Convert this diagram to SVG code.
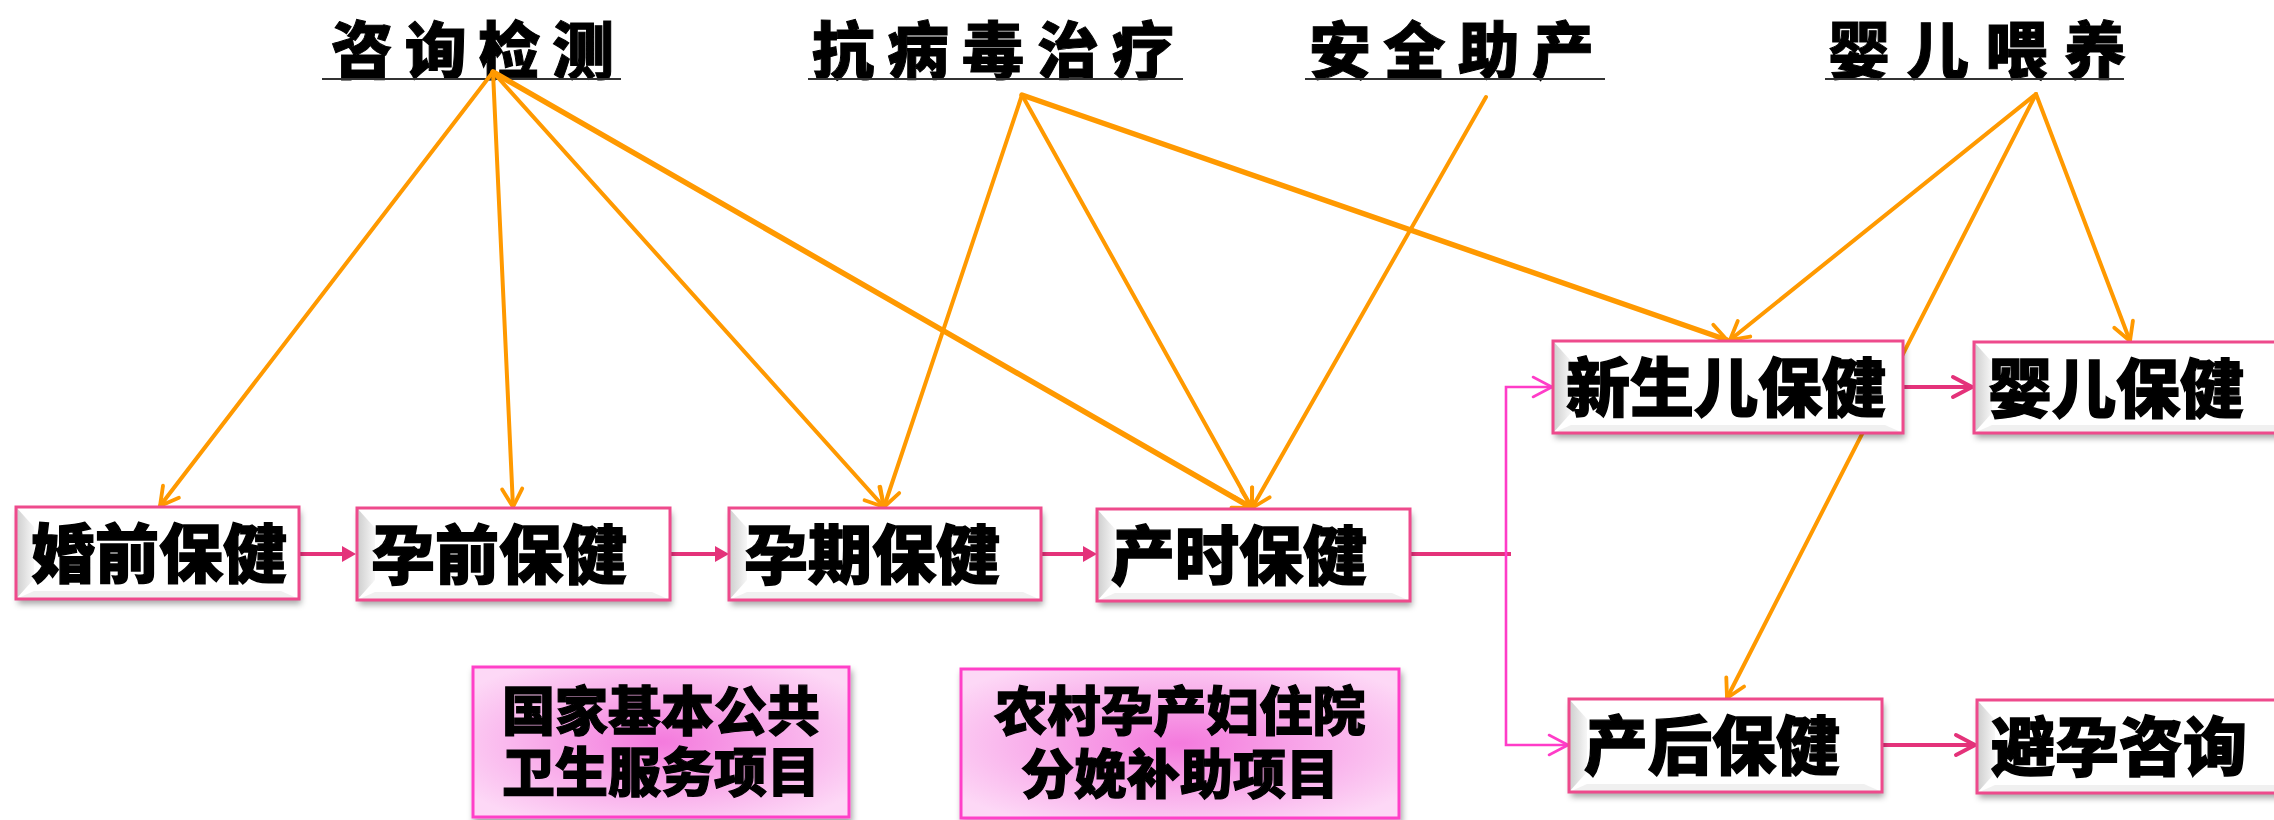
<svg xmlns="http://www.w3.org/2000/svg" width="2274" height="820" viewBox="0 0 2274 820">
  <style>
    .title { font-family: "Noto Sans CJK SC", "Noto Sans CJK TC", sans-serif; font-weight: 900; font-size: 62px; fill: #000; stroke: #000; stroke-width: 1; }
    .uline { stroke: #333; stroke-width: 2.2; }
    .lbl { font-family: "Noto Sans CJK SC", "Noto Sans CJK TC", sans-serif; font-weight: 900; font-size: 64px; fill: #000; stroke: #000; stroke-width: 1.4; }
    .plbl { font-family: "Noto Sans CJK SC", "Noto Sans CJK TC", sans-serif; font-weight: 900; font-size: 53px; fill: #000; stroke: #000; stroke-width: 1.2; text-anchor: middle; }
    .box { fill: #fff; stroke: none; filter: url(#sh); }
    .border { fill: none; stroke: #EE4A8C; stroke-width: 3; }
    .bevL { fill: url(#bevGrad); }
    .bevB { fill: #ececec; opacity: 0.8; }
    .pbox { fill: url(#pinkFill); stroke: #FF40C8; stroke-width: 3; filter: url(#sh); }
    .org { stroke: #FF9900; stroke-width: 4; fill: none; stroke-linecap: round; marker-end: url(#vOrg); }
    .org.thick { stroke-width: 5.5; }
    .pk { stroke: #E4327A; stroke-width: 4; fill: none; }
    .mg { stroke: #FF3CC8; stroke-width: 2.6; fill: none; }
  </style>
  <defs>
    <filter id="sh" x="-5%" y="-10%" width="115%" height="135%">
      <feDropShadow dx="2" dy="5" stdDeviation="3" flood-color="#000" flood-opacity="0.35"/>
    </filter>
    <linearGradient id="bevGrad" x1="0" y1="0" x2="1" y2="0">
      <stop offset="0" stop-color="#cdcdcd"/>
      <stop offset="1" stop-color="#f7f7f7"/>
    </linearGradient>
    <radialGradient id="pinkFill" cx="50%" cy="50%" r="62%">
      <stop offset="0" stop-color="#F47ADD"/>
      <stop offset="0.35" stop-color="#F79CE6"/>
      <stop offset="1" stop-color="#FDD8F6"/>
    </radialGradient>
    <marker id="vOrg" markerUnits="userSpaceOnUse" viewBox="-22 -14 26 28" markerWidth="26" markerHeight="28" refX="0" refY="0" orient="auto">
      <path d="M-18,-10 L0,0 L-18,10" fill="none" stroke="#FF9900" stroke-width="3.8" stroke-linecap="round" stroke-linejoin="round"/>
    </marker>
    <marker id="triPk" markerUnits="userSpaceOnUse" viewBox="-10 -10 18 20" markerWidth="18" markerHeight="20" refX="0" refY="0" orient="auto">
      <path d="M-8,-8 L6,0 L-8,8 Z" fill="#E4327A"/>
    </marker>
    <marker id="vPk" markerUnits="userSpaceOnUse" viewBox="-24 -14 28 28" markerWidth="28" markerHeight="28" refX="0" refY="0" orient="auto">
      <path d="M-19,-10 L0,0 L-19,10" fill="none" stroke="#E4327A" stroke-width="4" stroke-linecap="round" stroke-linejoin="round"/>
    </marker>
    <marker id="vMg" markerUnits="userSpaceOnUse" viewBox="-24 -14 28 28" markerWidth="28" markerHeight="28" refX="0" refY="0" orient="auto">
      <path d="M-19,-10 L0,0 L-19,10" fill="none" stroke="#FF3CC8" stroke-width="2.6" stroke-linecap="round" stroke-linejoin="round"/>
    </marker>
  </defs>

  <rect x="0" y="0" width="2274" height="820" fill="#fff"/>

  <!-- category titles -->
  <g id="t-zixun">
    <text class="title" x="331" y="74" textLength="283" lengthAdjust="spacing">咨询检测</text>
    <line class="uline" x1="322" y1="79" x2="621" y2="79"/>
  </g>
  <g id="t-kangbing">
    <text class="title" x="812" y="74" textLength="362" lengthAdjust="spacing">抗病毒治疗</text>
    <line class="uline" x1="808" y1="79" x2="1183" y2="79"/>
  </g>
  <g id="t-anquan">
    <text class="title" x="1309" y="74" textLength="285" lengthAdjust="spacing">安全助产</text>
    <line class="uline" x1="1305" y1="79" x2="1605" y2="79"/>
  </g>
  <g id="t-weiyang">
    <text class="title" x="1828" y="74" textLength="298" lengthAdjust="spacing">婴儿喂养</text>
    <line class="uline" x1="1825" y1="79" x2="2124" y2="79"/>
  </g>

  <!-- connectors -->
  <g id="connectors">
    <line class="org" x1="493" y1="72" x2="160" y2="506"/>
    <line class="org" x1="493" y1="72" x2="513" y2="507"/>
    <line class="org" x1="493" y1="72" x2="884" y2="507"/>
    <line class="org thick" x1="493" y1="72" x2="1252" y2="508"/>
    <line class="org" x1="1022" y1="95" x2="884" y2="507"/>
    <line class="org" x1="1022" y1="95" x2="1252" y2="508"/>
    <line class="org thick" x1="1022" y1="95" x2="1727" y2="340"/>
    <line class="org" x1="1486" y1="97" x2="1252" y2="508"/>
    <line class="org" x1="2036" y1="94" x2="1730" y2="340"/>
    <line class="org" x1="2036" y1="94" x2="2130" y2="341"/>
    <line class="org" x1="2036" y1="94" x2="1727" y2="698"/>

    <line class="pk" x1="299" y1="554" x2="350" y2="554" marker-end="url(#triPk)"/>
    <line class="pk" x1="670" y1="554" x2="723" y2="554" marker-end="url(#triPk)"/>
    <line class="pk" x1="1041" y1="554" x2="1091" y2="554" marker-end="url(#triPk)"/>
    <line class="pk" x1="1410" y1="554" x2="1511" y2="554"/>
    <path class="mg" d="M1506,554 V387 H1552" marker-end="url(#vMg)"/>
    <path class="mg" d="M1506,554 V745 H1568" marker-end="url(#vMg)"/>
    <line class="pk" x1="1903" y1="387" x2="1972" y2="387" marker-end="url(#vPk)"/>
    <line class="pk" x1="1882" y1="745" x2="1975" y2="745" marker-end="url(#vPk)"/>
  </g>

  <!-- main nodes -->
  <g id="n-hunqian">
    <rect class="box" x="16" y="507" width="283" height="92"/>
    <polygon class="bevL" points="16,507 34,527 34,579 16,599"/>
    <polygon class="bevB" points="16,599 34,591 281,591 299,599"/>
    <rect class="border" x="16" y="507" width="283" height="92"/>
    <text class="lbl" x="31" y="577">婚前保健</text>
  </g>
  <g id="n-yunqian">
    <rect class="box" x="357" y="508" width="313" height="92"/>
    <polygon class="bevL" points="357,508 375,528 375,580 357,600"/>
    <polygon class="bevB" points="357,600 375,592 652,592 670,600"/>
    <rect class="border" x="357" y="508" width="313" height="92"/>
    <text class="lbl" x="371" y="578">孕前保健</text>
  </g>
  <g id="n-yunqi">
    <rect class="box" x="729" y="508" width="312" height="92"/>
    <polygon class="bevL" points="729,508 747,528 747,580 729,600"/>
    <polygon class="bevB" points="729,600 747,592 1023,592 1041,600"/>
    <rect class="border" x="729" y="508" width="312" height="92"/>
    <text class="lbl" x="744" y="578">孕期保健</text>
  </g>
  <g id="n-chanshi">
    <rect class="box" x="1097" y="509" width="313" height="92"/>
    <polygon class="bevL" points="1097,509 1115,529 1115,581 1097,601"/>
    <polygon class="bevB" points="1097,601 1115,593 1392,593 1410,601"/>
    <rect class="border" x="1097" y="509" width="313" height="92"/>
    <text class="lbl" x="1111" y="579">产时保健</text>
  </g>
  <g id="n-xinsheng">
    <rect class="box" x="1553" y="341" width="350" height="92"/>
    <polygon class="bevL" points="1553,341 1571,361 1571,413 1553,433"/>
    <polygon class="bevB" points="1553,433 1571,425 1885,425 1903,433"/>
    <rect class="border" x="1553" y="341" width="350" height="92"/>
    <text class="lbl" x="1566" y="411">新生儿保健</text>
  </g>
  <g id="n-yinger">
    <rect class="box" x="1974" y="342" width="330" height="91"/>
    <polygon class="bevL" points="1974,342 1992,362 1992,413 1974,433"/>
    <polygon class="bevB" points="1974,433 1992,425 2286,425 2304,433"/>
    <rect class="border" x="1974" y="342" width="330" height="91"/>
    <text class="lbl" x="1988" y="412">婴儿保健</text>
  </g>
  <g id="n-chanhou">
    <rect class="box" x="1569" y="699" width="313" height="93"/>
    <polygon class="bevL" points="1569,699 1587,719 1587,772 1569,792"/>
    <polygon class="bevB" points="1569,792 1587,784 1864,784 1882,792"/>
    <rect class="border" x="1569" y="699" width="313" height="93"/>
    <text class="lbl" x="1584" y="769">产后保健</text>
  </g>
  <g id="n-biyun">
    <rect class="box" x="1977" y="700" width="330" height="93"/>
    <polygon class="bevL" points="1977,700 1995,720 1995,773 1977,793"/>
    <polygon class="bevB" points="1977,793 1995,785 2289,785 2307,793"/>
    <rect class="border" x="1977" y="700" width="330" height="93"/>
    <text class="lbl" x="1991" y="770">避孕咨询</text>
  </g>

  <!-- project boxes -->
  <g id="n-guojia">
    <rect class="pbox" x="473" y="667" width="376" height="150"/>
    <text class="plbl"><tspan x="661" y="731">国家基本公共</tspan><tspan x="661" y="792">卫生服务项目</tspan></text>
  </g>
  <g id="n-nongcun">
    <rect class="pbox" x="961" y="669" width="438" height="149"/>
    <text class="plbl"><tspan x="1180" y="731">农村孕产妇住院</tspan><tspan x="1180" y="794">分娩补助项目</tspan></text>
  </g>
</svg>
